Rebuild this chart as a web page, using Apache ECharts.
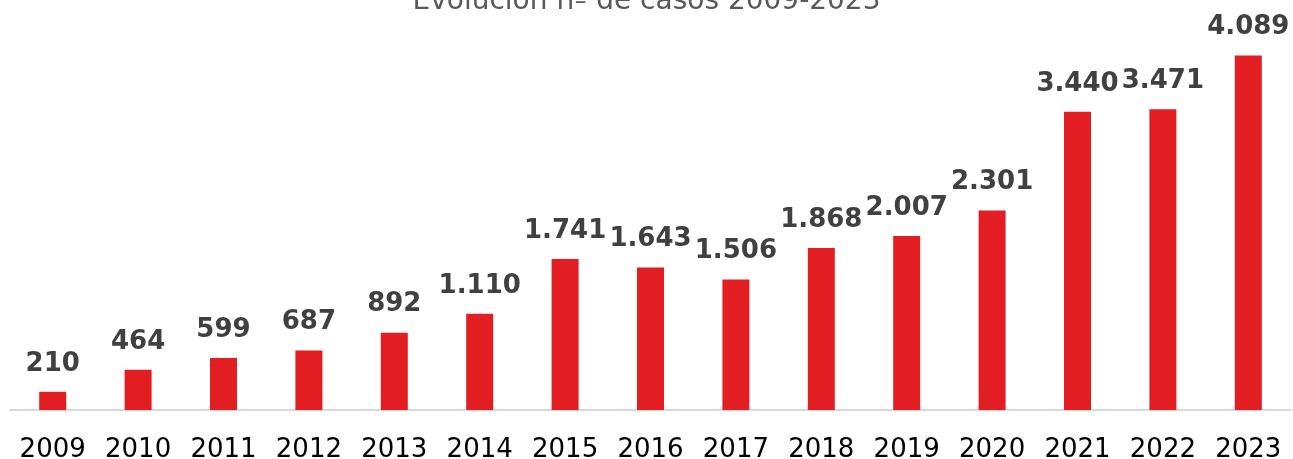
<!DOCTYPE html>
<html><head><meta charset="utf-8">
<script src="https://cdn.jsdelivr.net/npm/echarts@6/dist/echarts.min.js"></script>
<style>html,body{margin:0;padding:0;background:#fff}#c{width:1293px;height:459px}</style>
</head><body><div id="c"></div>
<script>
const years = ['2009','2010','2011','2012','2013','2014','2015','2016','2017','2018','2019','2020','2021','2022','2023'];
const cases = [210,464,599,687,892,1110,1741,1643,1506,1868,2007,2301,3440,3471,4089];
const titleText = 'Evolución nº de casos 2009-2023';
function fmt(v){return String(v).replace(/\B(?=(\d{3})+(?!\d))/g,'.');}
const chart = echarts.init(document.getElementById('c'));
chart.setOption({
  animation:false,
  title:{text:titleText,left:'center',top:-17,textStyle:{color:'#595959',fontSize:28,fontWeight:'normal',fontFamily:'DejaVu Sans'}},
  grid:{left:10,right:2,top:20,bottom:49,containLabel:false,outerBoundsMode:'none'},
  xAxis:{type:'category',data:years,axisLine:{lineStyle:{color:'#d9d9d9',width:2}},axisTick:{show:false},
    axisLabel:{color:'#000',fontSize:26,fontFamily:'DejaVu Sans',margin:27,interval:0,hideOverlap:false}},
  yAxis:{type:'value',min:0,max:4500,show:false,splitLine:{show:false}},
  series:[{type:'bar',data:cases,barWidth:27,itemStyle:{color:'#e21e23'},
    label:{show:true,position:'top',distance:15,color:'#404040',fontSize:26,fontWeight:'bold',fontFamily:'DejaVu Sans',
      formatter:p=>fmt(p.value)}}]
});
</script></body></html>
